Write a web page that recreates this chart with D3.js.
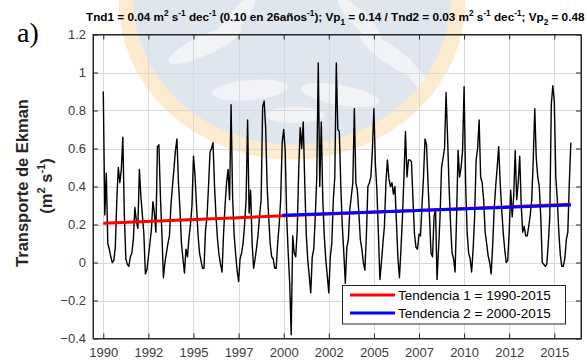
<!DOCTYPE html>
<html><head><meta charset="utf-8">
<script src="https://cdn.jsdelivr.net/npm/d3@7"></script>
<style>body{margin:0;background:#fff} svg{display:block}</style>
</head><body><svg id="c" width="587" height="360"></svg>
<script>
// ---- data (monthly, Jan 1990 .. Dec 2015) ----
const startYear = 1990;
const ekmanMonthly = [
  0.90, 0.25, 0.47, 0.10, 0.07, 0.03, 0.00, 0.01, 0.08, 0.33, 0.50, 0.42,
  0.49, 0.66, 0.25, 0.02, -0.01, -0.02, 0.03, 0.05, 0.12, 0.29, 0.22, 0.18,
  0.49, 0.35, 0.25, 0.15, -0.06, -0.04, 0.03, 0.10, 0.17, 0.32, 0.26, 0.16,
  0.61, 0.62, 0.35, 0.15, -0.08, 0.00, 0.05, 0.10, 0.14, 0.30, 0.40, 0.49,
  0.59, 0.65, 0.42, 0.28, 0.10, 0.02, -0.055, 0.07, 0.03, 0.13, 0.20, 0.30,
  0.56, 0.46, 0.30, 0.15, 0.05, 0.01, -0.03, -0.03, 0.17, 0.24, 0.40, 0.58,
  0.60, 0.63, 0.40, 0.24, 0.12, 0.04, -0.01, -0.05, 0.15, 0.30, 0.42, 0.49,
  0.33, 0.83, 0.35, 0.15, 0.05, -0.04, -0.10, 0.02, 0.05, 0.10, 0.20, 0.33,
  0.75, 0.26, 0.38, 0.10, -0.03, 0.02, 0.08, 0.15, 0.25, 0.33, 0.82, 0.85,
  0.71, 0.40, 0.24, 0.10, 0.03, 0.02, -0.03, -0.03, 0.10, 0.20, 0.33, 0.63,
  0.70, 0.59, 0.24, 0.05, -0.11, -0.38, 0.14, 0.05, 0.03, 0.17, 0.49, 0.71,
  0.60, 0.74, 0.42, 0.15, 0.015, -0.07, -0.16, 0.03, 0.07, 0.24, 0.45, 1.05,
  0.40, 0.74, 0.33, 0.14, 0.015, -0.07, -0.16, 0.03, 0.10, 0.33, 0.45, 1.05,
  0.70, 0.69, 0.40, 0.19, 0.05, -0.11, 0.08, 0.12, 0.28, 0.35, 0.42, 0.81,
  0.42, 0.38, 0.26, 0.12, 0.07, 0.00, -0.04, 0.14, 0.40, 0.42, 0.45, 0.59,
  0.81, 0.52, 0.38, 0.15, -0.09, 0.00, 0.10, 0.19, 0.42, 0.54, 0.44, 0.40,
  0.42, 0.36, 0.40, 0.21, 0.02, -0.08, 0.07, 0.24, 0.45, 0.69, 0.45, 0.54,
  0.54, 0.53, 0.33, 0.15, 0.08, 0.07, 0.15, 0.14, 0.30, 0.45, 0.65, 0.62,
  0.42, 0.24, 0.05, 0.03, 0.24, 0.28, -0.09, 0.07, 0.24, 0.50, 0.55, 0.60,
  0.895, 0.66, 0.40, 0.20, 0.05, 0.02, -0.05, 0.24, 0.59, 0.45, 0.50, 0.59,
  0.925, 0.42, 0.16, 0.05, 0.02, -0.05, 0.07, 0.24, 0.54, 0.60, 0.75, 0.45,
  0.42, 0.33, 0.16, 0.10, 0.035, 0.00, -0.06, 0.09, 0.28, 0.40, 0.50, 0.61,
  0.42, 0.28, 0.16, 0.07, 0.00, 0.01, 0.16, 0.38, 0.24, 0.35, 0.59, 0.33,
  0.42, 0.56, 0.30, 0.16, 0.19, 0.14, 0.14, 0.19, 0.25, 0.33, 0.54, 0.81,
  0.55, 0.45, 0.40, 0.24, 0.00, -0.01, -0.02, -0.01, 0.10, 0.24, 0.83, 0.93,
  0.85, 0.45, 0.33, 0.16, 0.04, -0.02, -0.02, 0.02, 0.12, 0.16, 0.42, 0.63
];
const trend1Years = [1990.0, 2015.917];
const trend1Values = [0.207, 0.307];
const trend2Years = [1999.92, 2015.917];
const trend2Values = [0.249, 0.302];
const xTickYears = [1990, 1992.5, 1995, 1997.5, 2000, 2002.5, 2005, 2007.5, 2010, 2012.5, 2015];
const yTicks = [-0.4, -0.2, 0, 0.2, 0.4, 0.6, 0.8, 1, 1.2];
const legendLabels = ["Tendencia 1 = 1990-2015", "Tendencia 2 = 2000-2015"];
const trendColors = ["#ff0000", "#0000ff"];

// ---- layout ----
const svg = d3.select("#c");
const L = 93, R = 581, T = 34.5, B = 338.5;
const x = d3.scaleLinear().domain([1989.43, 2016.48]).range([L, R]);
const y = d3.scaleLinear().domain([-0.4, 1.2]).range([B, T]);
const FONT = "'Liberation Sans', Arial, sans-serif";
const ink = "#262626";

// watermark (faint logo)
const wm = svg.append("g");
wm.append("ellipse").attr("cx", 292).attr("cy", 0).attr("rx", 166).attr("ry", 152)
  .attr("fill", "#e0e6ee");
[[205, 45, 40, 10, -25], [250, 90, 38, 10, -5], [340, 95, 40, 10, 10], [390, 55, 36, 9, 35],
 [235, 20, 30, 8, -50], [360, 20, 30, 8, 45], [295, 115, 30, 8, 0], [420, 80, 20, 7, 50]].forEach(([cx, cy, rx, ry, a]) => {
  wm.append("ellipse").attr("cx", cx).attr("cy", cy).attr("rx", rx).attr("ry", ry)
    .attr("transform", `rotate(${a},${cx},${cy})`).attr("fill", "#f1f3f7");
});
wm.append("ellipse").attr("cx", 292).attr("cy", 0).attr("rx", 166).attr("ry", 152)
  .attr("fill", "none").attr("stroke", "#fcebcf").attr("stroke-width", 15);

// grid
const grid = svg.append("g").attr("stroke", "#d9d9d9").attr("stroke-width", 1);
grid.selectAll(".gx").data(xTickYears).join("line")
  .attr("x1", d => Math.round(x(d)) + 0.5).attr("x2", d => Math.round(x(d)) + 0.5)
  .attr("y1", T).attr("y2", B);
grid.selectAll(".gy").data(yTicks.slice(1, -1)).join("line")
  .attr("y1", d => Math.round(y(d)) + 0.5).attr("y2", d => Math.round(y(d)) + 0.5)
  .attr("x1", L).attr("x2", R);

// series
const series = ekmanMonthly.map((v, i) => [startYear + i / 12, v]);
svg.append("path").datum(series)
  .attr("fill", "none").attr("stroke", "#000").attr("stroke-width", 1.4)
  .attr("stroke-linejoin", "round")
  .attr("d", d3.line().x(d => x(d[0])).y(d => y(d[1])));

// trends
const trends = [
  trend1Years.map((t, i) => [t, trend1Values[i]]),
  trend2Years.map((t, i) => [t, trend2Values[i]])
];
svg.selectAll(".trend").data(trends).join("path")
  .attr("fill", "none").attr("stroke", (d, i) => trendColors[i]).attr("stroke-width", 3)
  .attr("d", d3.line().x(d => x(d[0])).y(d => y(d[1])));

// axes
function styleAxis(g) {
  g.selectAll("path, line").attr("stroke", ink);
  g.selectAll("text").attr("fill", "#3c3c3c").style("font-family", FONT).style("font-size", "13px");
}
svg.append("g").attr("transform", `translate(0,${B})`)
  .call(d3.axisBottom(x).tickValues(xTickYears).tickFormat(d => Math.floor(d))
    .tickSizeInner(-5).tickSizeOuter(0).tickPadding(9)).call(styleAxis);
svg.append("g").attr("transform", `translate(0,${T})`)
  .call(d3.axisTop(x).tickValues(xTickYears).tickFormat("")
    .tickSizeInner(-5).tickSizeOuter(0)).call(styleAxis);
svg.append("g").attr("transform", `translate(${L},0)`)
  .call(d3.axisLeft(y).tickValues(yTicks).tickFormat(d => d3.format("")(+d.toFixed(1)))
    .tickSizeInner(-5).tickSizeOuter(0).tickPadding(7)).call(styleAxis);
svg.append("g").attr("transform", `translate(${R},0)`)
  .call(d3.axisRight(y).tickValues(yTicks).tickFormat("")
    .tickSizeInner(-5).tickSizeOuter(0)).call(styleAxis);
svg.append("rect").attr("x", L).attr("y", T).attr("width", R - L).attr("height", B - T)
  .attr("fill", "none").attr("stroke", ink).attr("stroke-width", 1);

// legend
const lg = svg.append("g");
lg.append("rect").attr("x", 342.5).attr("y", 285.5).attr("width", 223).attr("height", 38.5)
  .attr("fill", "#fff").attr("stroke", ink).attr("stroke-width", 1);
legendLabels.forEach((lab, i) => {
  const yy = 295 + i * 18;
  lg.append("line").attr("x1", 350).attr("x2", 395).attr("y1", yy).attr("y2", yy)
    .attr("stroke", trendColors[i]).attr("stroke-width", 3);
  lg.append("text").attr("x", 398).attr("y", yy + 4.5).text(lab)
    .style("font-family", FONT).style("font-size", "13.5px").attr("fill", "#000");
});

// y label
const yl = svg.append("g").attr("transform", "translate(28,183) rotate(-90)");
yl.append("text").attr("text-anchor", "middle").text("Transporte de Ekman")
  .style("font-family", FONT).style("font-weight", "bold").style("font-size", "16.5px").attr("fill", ink);
const yl2 = svg.append("g").attr("transform", "translate(52,186) rotate(-90)");
const t2 = yl2.append("text").attr("text-anchor", "middle")
  .style("font-family", FONT).style("font-weight", "bold").style("font-size", "16.5px").attr("fill", ink);
t2.append("tspan").text("(m");
t2.append("tspan").attr("dy", -7).style("font-size", "11px").text("2");
t2.append("tspan").attr("dy", 7).text(" s");
t2.append("tspan").attr("dy", -7).style("font-size", "11px").text("-1");
t2.append("tspan").attr("dy", 7).text(")");

// panel letter
svg.append("text").attr("x", 17).attr("y", 42).text("a)")
  .style("font-family", "'Liberation Serif', 'Times New Roman', serif").style("font-size", "28px").attr("fill", "#000");

// title
const title = svg.append("text").attr("x", 86).attr("y", 21)
  .style("font-family", FONT).style("font-weight", "bold").attr("fill", "#000");
const parts = [
  ["Tnd1 = 0.04 m", 0], ["2", 1], [" s", 0], ["-1", 1], [" dec", 0], ["-1", 1],
  [" (0.10 en 26años", 0], ["-1", 1], ["); Vp", 0], ["1", -1],
  [" = 0.14 / Tnd2 = 0.03 m", 0], ["2", 1], [" s", 0], ["-1", 1], [" dec", 0], ["-1", 1],
  ["; Vp", 0], ["2", -1], [" = 0.48", 0]
];
function buildTitle(fs) {
  title.selectAll("*").remove();
  title.style("font-size", fs + "px");
  let prev = 0;
  parts.forEach(([s, k]) => {
    const shift = k === 1 ? -0.4 * fs : (k === -1 ? 0.3 * fs : 0);
    const ts = title.append("tspan").text(s).attr("dy", shift - prev);
    if (k !== 0) ts.style("font-size", (fs * 0.7) + "px");
    prev = shift;
  });
}
let fs = 11;
buildTitle(fs);
const w = title.node().getBBox().width;
fs = fs * 499 / w;
buildTitle(fs);
</script></body></html>
